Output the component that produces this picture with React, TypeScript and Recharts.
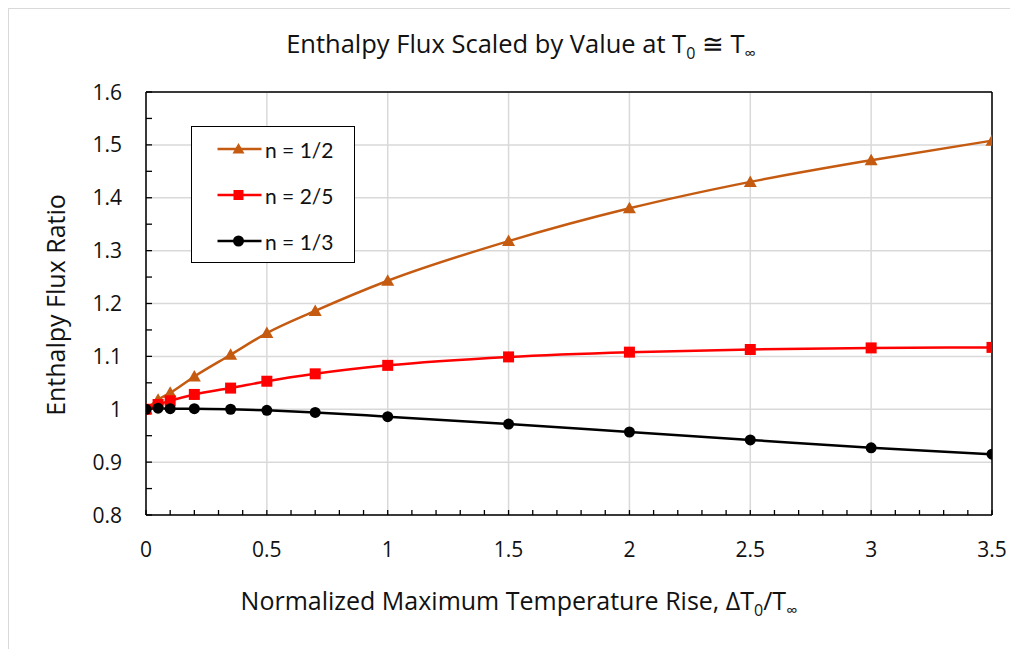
import React from 'react';
import { LineChart, Line, XAxis, YAxis, CartesianGrid, ReferenceLine } from 'recharts';

const xValues = [0, 0.05, 0.1, 0.2, 0.35, 0.5, 0.7, 1, 1.5, 2, 2.5, 3, 3.5];
const nHalf = [1.0, 1.018, 1.031, 1.062, 1.103, 1.144, 1.186, 1.243, 1.318, 1.38, 1.43, 1.471, 1.508];
const nTwoFifths = [1.0, 1.009, 1.016, 1.028, 1.04, 1.053, 1.067, 1.083, 1.099, 1.108, 1.113, 1.116, 1.117];
const nThird = [1.0, 1.002, 1.001, 1.001, 1.0, 0.998, 0.994, 0.986, 0.972, 0.957, 0.942, 0.927, 0.915];

const xTicks = [0, 0.1, 0.2, 0.3, 0.4, 0.5, 0.6, 0.7, 0.8, 0.9, 1, 1.1, 1.2, 1.3, 1.4, 1.5, 1.6, 1.7, 1.8, 1.9, 2, 2.1, 2.2, 2.3, 2.4, 2.5, 2.6, 2.7, 2.8, 2.9, 3, 3.1, 3.2, 3.3, 3.4, 3.5];
const xMajorTicks = [0, 0.5, 1, 1.5, 2, 2.5, 3, 3.5];
const yTicks = [0.8, 0.85, 0.9, 0.95, 1, 1.05, 1.1, 1.15, 1.2, 1.25, 1.3, 1.35, 1.4, 1.45, 1.5, 1.55, 1.6];
const yMajorTicks = [0.8, 0.9, 1, 1.1, 1.2, 1.3, 1.4, 1.5, 1.6];

const seriesNames = ['n = 1/2', 'n = 2/5', 'n = 1/3'];
const titleText = 'Enthalpy Flux Scaled by Value at T';
const xTitleText = 'Normalized Maximum Temperature Rise, ΔT';
const yTitleText = 'Enthalpy Flux Ratio';

const data = xValues.map((x, i) => ({ x, half: nHalf[i], twoFifths: nTwoFifths[i], third: nThird[i] }));

const FONT = '"Open Sans", Calibri, sans-serif';
const LEGEND_FONT = 'Lato, Calibri, sans-serif';
const ORANGE = '#C55A11';
const RED = '#FF0000';
const BLACK = '#000000';
const GRID = '#d9d9d9';

const isMajor = (list: number[], v: number) => list.some((m) => Math.abs(m - v) < 1e-6);

const XTick = (props: any) => {
  const { x, y, payload } = props;
  const v = payload.value;
  return (
    <g>
      <line x1={x} y1={y} x2={x} y2={y - 5} stroke={BLACK} strokeWidth={1.3} />
      {isMajor(xMajorTicks, v) && (
        <text x={x} y={y + 42} textAnchor="middle" fontSize={21} fontFamily={FONT} fill="#111">
          {String(v)}
        </text>
      )}
    </g>
  );
};

const YTick = (props: any) => {
  const { x, y, payload } = props;
  const v = payload.value;
  return (
    <g>
      <line x1={x} y1={y} x2={x + 6} y2={y} stroke={BLACK} strokeWidth={1.3} />
      {isMajor(yMajorTicks, v) && (
        <text x={x - 24} y={y + 7.5} textAnchor="end" fontSize={21} fontFamily={FONT} fill="#111">
          {String(v)}
        </text>
      )}
    </g>
  );
};

const triPath = (cx: number, cy: number) => `M${cx},${cy - 6.5} L${cx + 6.5},${cy + 5} L${cx - 6.5},${cy + 5} Z`;

const TriDot = (p: any) =>
  p.cx == null ? <g key={`t${p.index}`} /> : <path key={`t${p.index}`} d={triPath(p.cx, p.cy)} fill={ORANGE} />;
const SqDot = (p: any) =>
  p.cx == null ? <g key={`s${p.index}`} /> : <rect key={`s${p.index}`} x={p.cx - 5.5} y={p.cy - 5.5} width={11} height={11} fill={RED} />;
const CircDot = (p: any) =>
  p.cx == null ? <g key={`c${p.index}`} /> : <circle key={`c${p.index}`} cx={p.cx} cy={p.cy} r={5.5} fill={BLACK} />;

const legendMarkers = [
  (cx: number, cy: number) => <path d={`M${cx},${cy - 6} L${cx + 6},${cy + 4.5} L${cx - 6},${cy + 4.5} Z`} fill={ORANGE} />,
  (cx: number, cy: number) => <rect x={cx - 5} y={cy - 5} width={10} height={10} fill={RED} />,
  (cx: number, cy: number) => <circle cx={cx} cy={cy} r={5.5} fill={BLACK} />,
];
const legendColors = [ORANGE, RED, BLACK];

export default function App() {
  return (
    <div style={{ position: 'relative', width: 1010, height: 641, fontFamily: FONT, background: '#fff' }}>
      <div
        style={{
          position: 'absolute',
          left: -1,
          top: -1,
          width: 1020,
          height: 650,
          borderLeft: `2px solid ${GRID}`,
          borderTop: `2px solid ${GRID}`,
          boxSizing: 'border-box',
        }}
      />
      <div style={{ position: 'absolute', left: 0, top: 0 }}>
        <LineChart width={1010} height={641} data={data} margin={{ top: 84, right: 26, left: 78, bottom: 94 }}>
          <CartesianGrid
            stroke={GRID}
            strokeWidth={1.5}
            verticalValues={xMajorTicks}
            horizontalValues={yMajorTicks}
          />
          <XAxis
            dataKey="x"
            type="number"
            domain={[0, 3.5]}
            ticks={xTicks}
            interval={0}
            tickSize={0}
            tickMargin={0}
            tick={XTick}
            height={40}
            axisLine={{ stroke: BLACK, strokeWidth: 1.5 }}
            tickLine={false}
            allowDataOverflow
          />
          <YAxis
            type="number"
            domain={[0.8, 1.6]}
            ticks={yTicks}
            interval={0}
            tickSize={0}
            tickMargin={0}
            tick={YTick}
            width={60}
            axisLine={{ stroke: BLACK, strokeWidth: 1.5 }}
            tickLine={false}
            allowDataOverflow
          />
          <ReferenceLine y={1.6} stroke={BLACK} strokeWidth={1.5} />
          <ReferenceLine x={3.5} stroke={BLACK} strokeWidth={1.5} />
          <Line
            dataKey="half"
            name={seriesNames[0]}
            type="monotone"
            stroke={ORANGE}
            strokeWidth={2.5}
            dot={TriDot}
            activeDot={false}
            isAnimationActive={false}
          />
          <Line
            dataKey="twoFifths"
            name={seriesNames[1]}
            type="monotone"
            stroke={RED}
            strokeWidth={2.5}
            dot={SqDot}
            activeDot={false}
            isAnimationActive={false}
          />
          <Line
            dataKey="third"
            name={seriesNames[2]}
            type="monotone"
            stroke={BLACK}
            strokeWidth={2.5}
            dot={CircDot}
            activeDot={false}
            isAnimationActive={false}
          />
        </LineChart>
      </div>

      {/* Title */}
      <div
        style={{
          position: 'absolute',
          left: 0,
          width: 1026,
          top: 18,
          textAlign: 'center',
          fontSize: 25.5,
          color: '#111',
          whiteSpace: 'nowrap',
        }}
      >
        {titleText}
        <sub style={{ fontSize: 16 }}>0</sub> ≅ T<sub style={{ fontSize: 16 }}>∞</sub>
      </div>

      {/* X axis title */}
      <div
        style={{
          position: 'absolute',
          left: 0,
          width: 1022,
          top: 575,
          textAlign: 'center',
          fontSize: 25,
          color: '#111',
          whiteSpace: 'nowrap',
        }}
      >
        {xTitleText}
        <sub style={{ fontSize: 16 }}>0</sub>/T<sub style={{ fontSize: 16 }}>∞</sub>
      </div>

      {/* Y axis title */}
      <div
        style={{
          position: 'absolute',
          left: 47 - 150,
          top: 297 - 17,
          width: 300,
          height: 34,
          lineHeight: '34px',
          textAlign: 'center',
          fontSize: 25,
          color: '#111',
          transform: 'rotate(-90deg)',
          whiteSpace: 'nowrap',
        }}
      >
        {yTitleText}
      </div>

      {/* Legend */}
      <div
        style={{
          position: 'absolute',
          left: 183,
          top: 118,
          width: 164,
          height: 137,
          border: '1.5px solid #000',
          background: '#fff',
          boxSizing: 'border-box',
          fontFamily: LEGEND_FONT,
        }}
      >
        {seriesNames.map((name, i) => (
          <div key={name} style={{ position: 'absolute', left: 0, top: 8 + i * 46, height: 28, display: 'flex', alignItems: 'center' }}>
            <svg width={70} height={28} style={{ display: 'block' }}>
              <line x1={25.5} y1={14} x2={69.5} y2={14} stroke={legendColors[i]} strokeWidth={2.5} />
              {legendMarkers[i](46.5, 14)}
            </svg>
            <span style={{ fontSize: 21, color: '#111', marginLeft: 3, whiteSpace: 'nowrap' }}>{name}</span>
          </div>
        ))}
      </div>
    </div>
  );
}
